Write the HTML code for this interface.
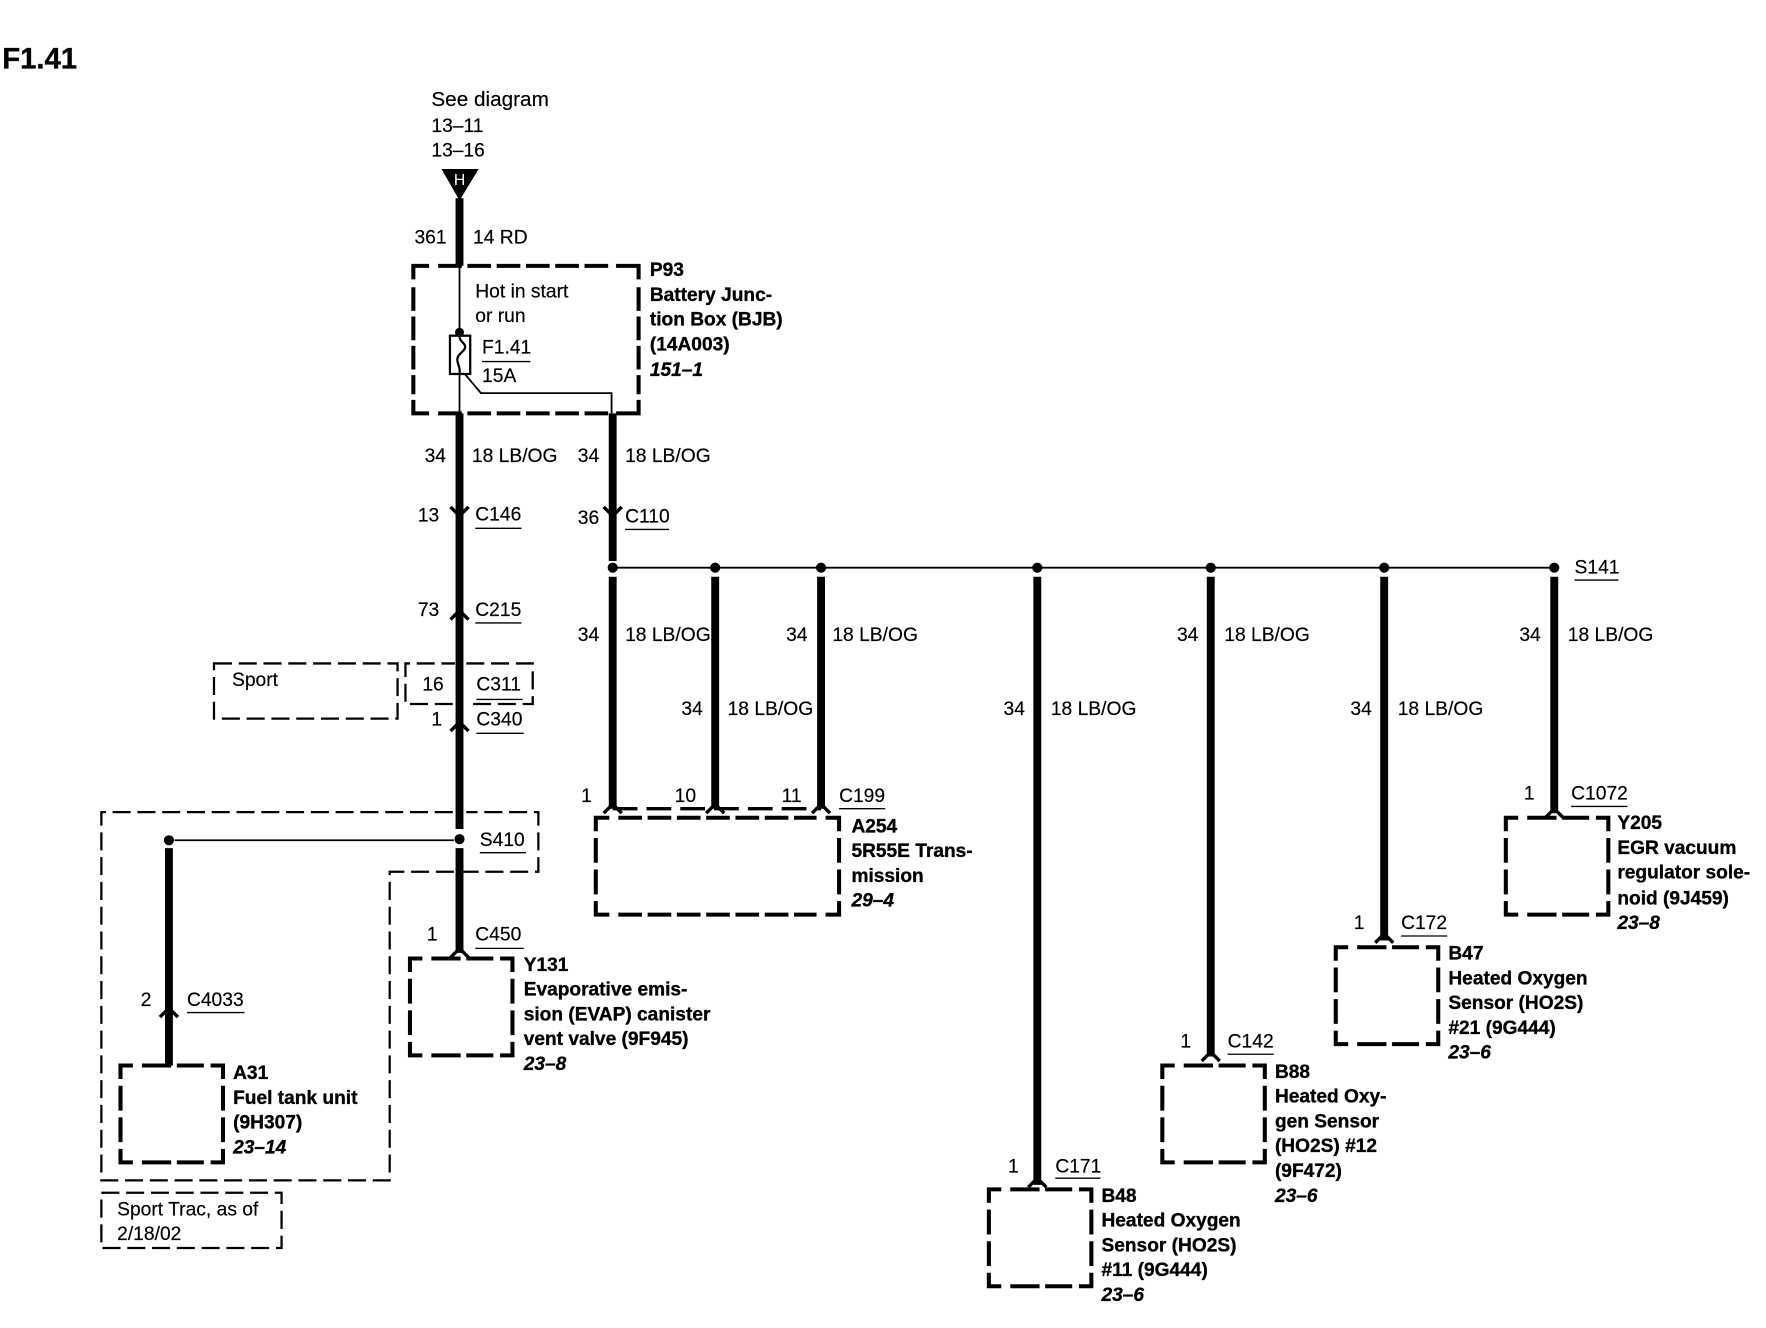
<!DOCTYPE html>
<html><head><meta charset="utf-8"><style>
html,body{margin:0;padding:0;background:#fff}
svg{display:block}
text{font-family:"Liberation Sans",sans-serif;font-size:17.1px;fill:#000;stroke:#000;stroke-width:.15}
.b{font-weight:bold;font-size:17px;stroke-width:.3}
.i{font-weight:bold;font-style:italic;font-size:17px;stroke-width:.3}
.w{stroke:#000;stroke-width:7;fill:none}
.t{stroke:#000;stroke-width:1.6;fill:none}
.u{stroke:#000;stroke-width:1.2;fill:none}
.d{stroke:#000;stroke-width:2;fill:none;stroke-dasharray:16 6}
.k{stroke:#000;stroke-width:3.6;fill:none}
.kd{stroke:#000;stroke-width:3.6;fill:none;stroke-dasharray:21 5}
.c{stroke:#000;stroke-width:3;fill:none}
</style></head><body>
<svg xmlns="http://www.w3.org/2000/svg" width="1766" height="1328" viewBox="0 0 1568 1179">
<defs>
<path id="bx" class="k" d="M0 12V0H11M19 0H45M50 0H74M80 0H91V12M0 18V40M0 46V68M0 74V86H11M19 86H45M50 86H74M80 86H91V74M91 18V40M91 46V68"/>
</defs>
<rect width="1568" height="1179" fill="#fff"/>
<text x="2" y="61" style="font-size:26px;font-weight:bold;stroke-width:.3">F1.41</text>
<text x="383" y="94" style="font-size:18.4px">See diagram</text>
<text x="383" y="117">13–11</text>
<text x="383" y="139">13–16</text>
<polygon points="392,150 425,150 408,178" fill="#000"/>
<text x="408" y="164" text-anchor="middle" style="font-size:14px;fill:#fff;stroke:none">H</text>

<!-- wires -->
<path class="w" d="M408 176V236M408 367V736M408 753V846M150 753V946M544 367V498M544 512V718M635 512V718M729 512V718M921 512V1052M1075 512V938M1229 512V835M1380 512V722"/>
<path class="t" d="M408 236V298M408 332V367M411 330L427 349H543V367M155 746H403M544 504H1380"/>
<g fill="#000">
<circle cx="408" cy="295" r="4"/><circle cx="408" cy="745" r="4.500"/><circle cx="150" cy="746" r="4.500"/>
<circle cx="544" cy="504" r="4.500"/><circle cx="635" cy="504" r="4.500"/><circle cx="729" cy="504" r="4.500"/><circle cx="921" cy="504" r="4.500"/><circle cx="1075" cy="504" r="4.500"/><circle cx="1229" cy="504" r="4.500"/><circle cx="1380" cy="504" r="4.500"/>
</g>
<!-- fuse -->
<rect x="399.500" y="298" width="18" height="34" fill="#fff" stroke="#000" stroke-width="2"/>
<path d="M408 298c0 6 5 6 5 10s-7 6-7 11 3 6 2 13" fill="none" stroke="#000" stroke-width="2"/>

<!-- chevrons -->
<path class="c" d="M400 450L408 458L416 450M536 450L544 458L552 450M400 550L408 542L416 550M400 649L408 641L416 649M142 903L150 895L158 903M400 850L408 842L416 850M536 722L544 714L552 722M627 722L635 714L643 722M721 722L729 714L737 722M913 1054L921 1046L929 1054M1067 942L1075 934L1083 942M1221 837L1229 829L1237 837M1372 726L1380 718L1388 726"/>

<!-- dashed thin outlines -->
<rect class="d" x="190" y="589" width="163" height="49"/>
<path class="d" d="M402 625H360V589H404M414 589H473V625H414"/>
<path class="d" d="M402 721H90V1048H346V774H478V721H414"/>
<rect class="d" x="90" y="1059" width="160" height="49"/>
<path d="M544 718H729" fill="none" stroke="#000" stroke-width="3" stroke-dasharray="22 8"/>

<!-- dashed thick boxes -->
<path class="k" d="M367 248V236H381M547 236H567V248M367 355V367H381M547 367H567V355"/>
<path class="kd" d="M389 236H540M389 367H540M367 255V350M567 255V350"/>
<path class="k" d="M529 738V726H541M733 726H745V738M529 800V812H541M733 812H745V800M529 744V766M529 772V794M745 744V766M745 772V794"/>
<path class="kd" d="M549 726H725M549 812H725"/>
<use href="#bx" x="107" y="946"/>
<use href="#bx" x="364" y="851"/>
<use href="#bx" x="1337" y="726"/>
<use href="#bx" x="1186" y="841"/>
<use href="#bx" x="1032" y="946"/>
<use href="#bx" x="878" y="1056"/>

<!-- wire labels -->
<text x="368" y="216">361</text><text x="420" y="216">14 RD</text>
<text x="422" y="264">Hot in start</text><text x="422" y="286">or run</text>
<text x="428" y="314">F1.41</text><path class="u" d="M428 321H471"/><text x="428" y="339">15A</text>
<text x="377" y="410">34</text><text x="419" y="410">18 LB/OG</text>
<text x="513" y="410">34</text><text x="555" y="410">18 LB/OG</text>
<text x="371" y="463">13</text><text x="422" y="462">C146</text><path class="u" d="M422 469H463"/>
<text x="513" y="465">36</text><text x="555" y="464">C110</text><path class="u" d="M555 470H594"/>
<text x="371" y="547">73</text><text x="422" y="547">C215</text><path class="u" d="M422 553H463"/>
<text x="206" y="609">Sport</text>
<text x="375" y="613">16</text><text x="423" y="613">C311</text><path class="u" d="M423 621H464"/>
<text x="383" y="644">1</text><text x="423" y="644">C340</text><path class="u" d="M423 651H465"/>
<text x="426" y="751">S410</text><path class="u" d="M426 757H467"/>
<text x="379" y="835">1</text><text x="422" y="835">C450</text><path class="u" d="M422 842H465"/>
<text x="125" y="893">2</text><text x="166" y="893">C4033</text><path class="u" d="M166 899H217"/>
<text x="104" y="1079">Sport Trac, as of</text><text x="104" y="1101">2/18/02</text>

<text x="513" y="569">34</text><text x="555" y="569">18 LB/OG</text>
<text x="605" y="635">34</text><text x="646" y="635">18 LB/OG</text>
<text x="698" y="569">34</text><text x="739" y="569">18 LB/OG</text>
<text x="891" y="635">34</text><text x="933" y="635">18 LB/OG</text>
<text x="1045" y="569">34</text><text x="1087" y="569">18 LB/OG</text>
<text x="1199" y="635">34</text><text x="1241" y="635">18 LB/OG</text>
<text x="1349" y="569">34</text><text x="1392" y="569">18 LB/OG</text>
<text x="1398" y="509">S141</text><path class="u" d="M1398 515H1437"/>

<text x="516" y="712">1</text><text x="599" y="712">10</text><text x="694" y="712">11</text>
<text x="745" y="712">C199</text><path class="u" d="M745 718H786"/>
<text x="1353" y="710">1</text><text x="1395" y="710">C1072</text><path class="u" d="M1395 716H1445"/>
<text x="1202" y="825">1</text><text x="1244" y="825">C172</text><path class="u" d="M1244 831H1285"/>
<text x="1048" y="930">1</text><text x="1090" y="930">C142</text><path class="u" d="M1090 936H1131"/>
<text x="895" y="1041">1</text><text x="937" y="1041">C171</text><path class="u" d="M937 1046H977"/>

<!-- component labels -->
<text class="b" x="577" y="245">P93</text><text class="b" x="577" y="267">Battery Junc-</text><text class="b" x="577" y="289">tion Box (BJB)</text><text class="b" x="577" y="311">(14A003)</text><text class="i" x="577" y="334">151–1</text>
<text class="b" x="207" y="958">A31</text><text class="b" x="207" y="980">Fuel tank unit</text><text class="b" x="207" y="1002">(9H307)</text><text class="i" x="207" y="1024">23–14</text>
<text class="b" x="465" y="862">Y131</text><text class="b" x="465" y="884">Evaporative emis-</text><text class="b" x="465" y="906">sion (EVAP) canister</text><text class="b" x="465" y="928">vent valve (9F945)</text><text class="i" x="465" y="950">23–8</text>
<text class="b" x="756" y="739">A254</text><text class="b" x="756" y="761">5R55E Trans-</text><text class="b" x="756" y="783">mission</text><text class="i" x="756" y="805">29–4</text>
<text class="b" x="1436" y="736">Y205</text><text class="b" x="1436" y="758">EGR vacuum</text><text class="b" x="1436" y="780">regulator sole-</text><text class="b" x="1436" y="803">noid (9J459)</text><text class="i" x="1436" y="825">23–8</text>
<text class="b" x="1286" y="852">B47</text><text class="b" x="1286" y="874">Heated Oxygen</text><text class="b" x="1286" y="896">Sensor (HO2S)</text><text class="b" x="1286" y="918">#21 (9G444)</text><text class="i" x="1286" y="940">23–6</text>
<text class="b" x="1132" y="957">B88</text><text class="b" x="1132" y="979">Heated Oxy-</text><text class="b" x="1132" y="1001">gen Sensor</text><text class="b" x="1132" y="1023">(HO2S) #12</text><text class="b" x="1132" y="1045">(9F472)</text><text class="i" x="1132" y="1067">23–6</text>
<text class="b" x="978" y="1067">B48</text><text class="b" x="978" y="1089">Heated Oxygen</text><text class="b" x="978" y="1111">Sensor (HO2S)</text><text class="b" x="978" y="1133">#11 (9G444)</text><text class="i" x="978" y="1155">23–6</text>
</svg>
</body></html>
